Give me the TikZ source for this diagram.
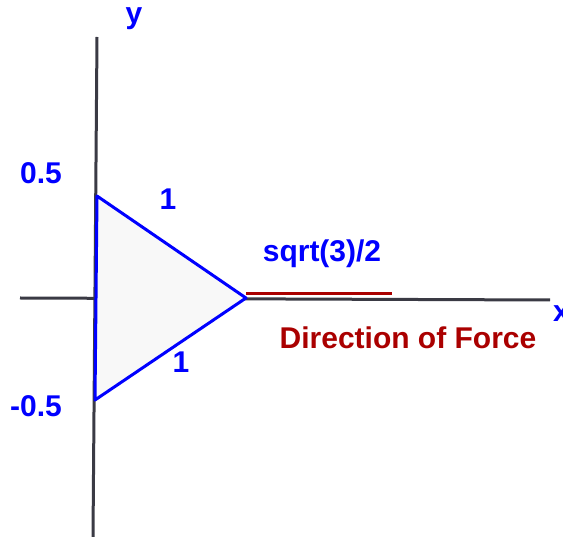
\documentclass[tikz,border=0pt]{standalone}
\usepackage{fontspec}
\setmainfont{Liberation Sans}
\usepackage{tikz}
\usetikzlibrary{positioning,calc}
\definecolor{trblue}{HTML}{0000FF}
\definecolor{trred}{HTML}{AA0000}
\definecolor{traxis}{HTML}{3A3A44}
\definecolor{trfill}{HTML}{F8F8F8}

\begin{document}
\begin{tikzpicture}[x=1pt,y=-1pt,font=\fontsize{30}{32}\selectfont\bfseries,
  axisline/.style={traxis,line width=3pt},
  edgeline/.style={trblue,line width=3pt,line join=round},
  bluelab/.style={trblue,inner sep=0pt},
  redlab/.style={trred,inner sep=0pt}]
  \useasboundingbox (0,0) rectangle (563,537);
  % axes
  \coordinate (ytop) at (97,37);
  \coordinate (ybot) at (93,537);
  \coordinate (xleft) at (20,298);
  \coordinate (xright) at (550,300);
  \draw[axisline] (ybot) -- (ytop);
  \draw[axisline] (xleft) -- (xright);
  % triangle
  \coordinate (A) at (97,196);
  \coordinate (B) at (95,400);
  \coordinate (C) at (246,298);
  \fill[trfill] (A) -- (C) -- (B) -- cycle;
  \draw[edgeline] (A) -- (C) -- (B) -- cycle;
  % force
  \coordinate (F) at (392,294);
  \draw[trred,line width=3pt] (C |- F) -- (F);
  % labels
  \node[bluelab] (ylab) at (134,19) {y};
  \node[bluelab,anchor=west] (xlab) at (553,314) {x};
  \node[bluelab] (up) at (41,173) {0.5};
  \node[bluelab] (down) at (36,406) {-0.5};
  \node[bluelab] (sideA) at (168,199) {1};
  \node[bluelab] (sideB) at (181,362) {1};
  \node[bluelab] (apex) at (322,254) {sqrt(3)/2};
  \node[redlab] (force) at (408,338) {Direction of Force};
\end{tikzpicture}
\end{document}
